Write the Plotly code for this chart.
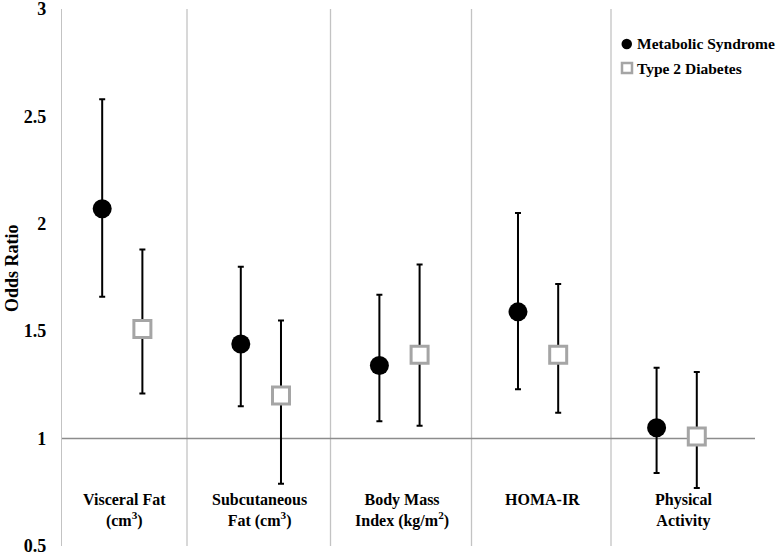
import plotly.graph_objects as go

# ---- data ----
categories = ["Visceral Fat<br>(cm<sup>3</sup>)", "Subcutaneous<br>Fat (cm<sup>3</sup>)",
              "Body Mass<br>Index (kg/m<sup>2</sup>)", "HOMA-IR", "Physical<br>Activity"]
ms_or = [2.07, 1.44, 1.34, 1.59, 1.05]
ms_lo = [1.66, 1.15, 1.08, 1.23, 0.84]
ms_hi = [2.58, 1.80, 1.67, 2.05, 1.33]
t2d_or = [1.51, 1.20, 1.39, 1.39, 1.01]
t2d_lo = [1.21, 0.79, 1.06, 1.12, 0.77]
t2d_hi = [1.88, 1.55, 1.81, 1.72, 1.31]
series_names = ["Metabolic Syndrome", "Type 2 Diabetes"]
y_ticks = [0.5, 1, 1.5, 2, 2.5, 3]

# ---- layout constants ----
W, H = 780, 554
L, R, T, B = 62, 25, 9, 8
PW, PH = W - L - R, H - T - B
FONT = "Liberation Serif"
GRAY = "#a5a5a5"

def pxx(px):
    return (px - L) / PW

def pxy(py):
    return (H - B - py) / PH

ms_off, t2d_off = 0.29, 0.58
idx = list(range(len(categories)))
x_ms = [i + ms_off for i in idx]
x_t2d = [i + t2d_off for i in idx]

fig = go.Figure()
fig.add_trace(go.Scatter(
    x=x_ms, y=ms_or, mode="markers", name=series_names[0], showlegend=False,
    marker=dict(symbol="circle", size=19, color="black"),
    error_y=dict(type="data", symmetric=False,
                 array=[h - o for h, o in zip(ms_hi, ms_or)],
                 arrayminus=[o - l for o, l in zip(ms_or, ms_lo)],
                 color="black", thickness=2, width=3)))
fig.add_trace(go.Scatter(
    x=x_t2d, y=t2d_or, mode="markers", name=series_names[1], showlegend=False,
    marker=dict(symbol="square", size=17, color="white", line=dict(color=GRAY, width=3)),
    error_y=dict(type="data", symmetric=False,
                 array=[h - o for h, o in zip(t2d_hi, t2d_or)],
                 arrayminus=[o - l for o, l in zip(t2d_or, t2d_lo)],
                 color="black", thickness=2, width=3)))

shapes = []
# category separators
for px in [187, 330.5, 471.5, 611]:
    shapes.append(dict(type="line", xref="paper", yref="paper", x0=pxx(px), x1=pxx(px),
                       y0=0, y1=1, line=dict(color="#c3c3c3", width=1.3), layer="below"))
# reference line at OR = 1
shapes.append(dict(type="line", xref="paper", yref="y", x0=0, x1=1, y0=1, y1=1,
                   line=dict(color="#8c8c8c", width=1.5), layer="below"))
# legend symbols
shapes.append(dict(type="circle", xref="paper", yref="paper",
                   x0=pxx(621.5), x1=pxx(632), y0=pxy(49.2), y1=pxy(38.8),
                   fillcolor="black", line=dict(color="black", width=0)))
shapes.append(dict(type="rect", xref="paper", yref="paper",
                   x0=pxx(622), x1=pxx(632), y0=pxy(73), y1=pxy(63),
                   fillcolor="white", line=dict(color=GRAY, width=2.5)))

annotations = []
label_centers = [124.5, 259, 401.5, 542, 683.5]
for c, lab in zip(label_centers, categories):
    annotations.append(dict(x=pxx(c), y=pxy(489), xref="paper", yref="paper",
                            text=lab, showarrow=False, xanchor="center", yanchor="top",
                            font=dict(family=FONT, size=16, color="black", weight="bold")))
for py, name in zip([44, 68], series_names):
    annotations.append(dict(x=pxx(635), y=pxy(py), xref="paper", yref="paper",
                            text=name, showarrow=False, xanchor="left", yanchor="middle",
                            font=dict(family=FONT, size=15.5, color="black", weight="bold")))
annotations.append(dict(x=pxx(12), y=pxy(268), xref="paper", yref="paper",
                        text="Odds Ratio", textangle=-90, showarrow=False,
                        xanchor="center", yanchor="middle",
                        font=dict(family=FONT, size=18, color="black", weight="bold")))

fig.update_layout(
    width=W, height=H, margin=dict(l=L, r=R, t=T, b=B, autoexpand=False),
    paper_bgcolor="white", plot_bgcolor="white",
    showlegend=False, shapes=shapes, annotations=annotations,
    xaxis=dict(range=[0, 5], showgrid=False, zeroline=False, showticklabels=False,
               showline=False, ticks="", automargin=False),
    yaxis=dict(range=[0.4995, 3.0005], tickvals=y_ticks, ticktext=[str(v) for v in y_ticks],
               showgrid=False, zeroline=False, showline=True, linecolor="#c3c3c3",
               linewidth=1.3, ticks="", ticklabelstandoff=11, ticklabeloverflow="allow",
               automargin=False,
               tickfont=dict(family=FONT, size=18, color="black", weight="bold")),
)

fig.write_html("out.html", config={"displayModeBar": False},
               post_script="document.body.style.margin='0';document.body.style.overflow='hidden';")
